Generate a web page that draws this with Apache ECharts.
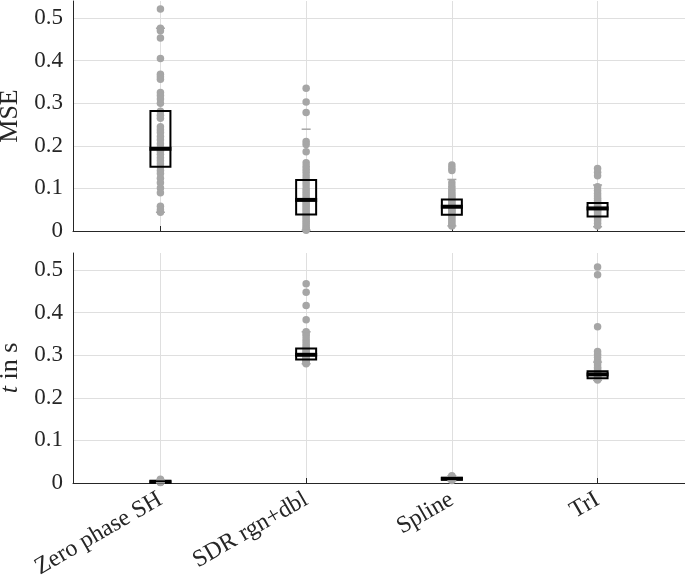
<!DOCTYPE html>
<html>
<head>
<meta charset="utf-8">
<script src="https://cdn.jsdelivr.net/npm/echarts@6/dist/echarts.min.js"></script>
<style>
  html, body { margin: 0; padding: 0; background: #fff; }
  #chart { width: 685px; height: 585px; }
</style>
</head>
<body>
<div id="chart"></div>
<script>
// ---------- data ----------
const categories = ['Zero phase SH', 'SDR rgn+dbl', 'Spline', 'TrI'];
const catPositions = [1, 2, 3, 4];
const yTicks = [0, 0.1, 0.2, 0.3, 0.4, 0.5];

// MSE panel: individual points per method
const mseZeroPhase = [0.521, 0.476, 0.470, 0.453, 0.405, 0.368, 0.362, 0.356, 0.325, 0.318, 0.310, 0.300, 0.281, 0.272, 0.265, 0.245, 0.238, 0.231, 0.222, 0.214, 0.205, 0.197, 0.187, 0.180, 0.172, 0.165, 0.158, 0.150, 0.142, 0.135, 0.124, 0.113, 0.101, 0.090, 0.058, 0.050, 0.044];
const mseSdr = [0.335, 0.303, 0.278, 0.210, 0.203, 0.186, 0.160, 0.152, 0.145, 0.138, 0.130, 0.122, 0.115, 0.108, 0.100, 0.094, 0.088, 0.082, 0.076, 0.072, 0.068, 0.063, 0.058, 0.053, 0.048, 0.043, 0.038, 0.033, 0.028, 0.023, 0.018, 0.013, 0.008, 0.004, 0.002];
const mseSpline = [0.155, 0.148, 0.142, 0.113, 0.105, 0.098, 0.092, 0.087, 0.082, 0.078, 0.074, 0.070, 0.066, 0.062, 0.059, 0.056, 0.053, 0.050, 0.047, 0.044, 0.040, 0.036, 0.031, 0.026, 0.021, 0.016, 0.012];
const mseTri = [0.147, 0.138, 0.130, 0.104, 0.095, 0.088, 0.082, 0.077, 0.072, 0.068, 0.064, 0.060, 0.057, 0.054, 0.051, 0.048, 0.045, 0.042, 0.038, 0.034, 0.029, 0.024, 0.018, 0.012];

// MSE panel: box statistics per method
const mseLow    = [0.044, 0.002, 0.012, 0.010];
const mseQ1     = [0.151, 0.039, 0.038, 0.034];
const mseMedian = [0.193, 0.073, 0.057, 0.053];
const mseQ3     = [0.282, 0.120, 0.074, 0.066];
const mseHigh   = [0.476, 0.239, 0.121, 0.108];

// time panel: individual points per method
const tZeroPhase = [0.001, 0.002, 0.002, 0.003, 0.003, 0.003, 0.004, 0.004, 0.005, 0.006, 0.009];
const tSdr = [0.468, 0.448, 0.417, 0.383, 0.355, 0.350, 0.345, 0.338, 0.332, 0.326, 0.320, 0.316, 0.312, 0.308, 0.305, 0.302, 0.300, 0.298, 0.296, 0.294, 0.292, 0.290, 0.288, 0.286, 0.284, 0.282, 0.280];
const tSpline = [0.006, 0.008, 0.009, 0.010, 0.010, 0.011, 0.012, 0.013, 0.015, 0.017];
const tTri = [0.507, 0.489, 0.367, 0.309, 0.302, 0.295, 0.288, 0.282, 0.277, 0.272, 0.268, 0.264, 0.261, 0.258, 0.256, 0.254, 0.252, 0.250, 0.248, 0.246, 0.244, 0.242];

// time panel: box statistics per method
const tLow    = [0.0005, 0.280, 0.005, 0.241];
const tQ1     = [0.002, 0.290, 0.008, 0.246];
const tMedian = [0.003, 0.301, 0.010, 0.255];
const tQ3     = [0.004, 0.316, 0.012, 0.2625];
const tHigh   = [0.008, 0.355, 0.017, 0.284];

// ---------- build ----------
const FONT = 'Liberation Serif';
const TEXT = '#262626';
const GRIDC = '#dfdfdf';
const PT = '#a6a6a6';

function points(groups) {
  const out = [];
  groups.forEach((g, i) => g.forEach(v => out.push([catPositions[i], v])));
  return out;
}
function boxes(q1, med, q3) {
  return catPositions.map((x, i) => [x, q1[i], med[i], q3[i]]);
}
function caps(lo, hi) {
  return catPositions.map((x, i) => [x, lo[i], hi[i]]);
}

function renderBox(params, api) {
  const x = api.value(0);
  const p1 = api.coord([x, api.value(1)]);
  const pm = api.coord([x, api.value(2)]);
  const p3 = api.coord([x, api.value(3)]);
  const w = 20;
  return {
    type: 'group',
    children: [
      { type: 'rect', shape: { x: p1[0] - w / 2, y: p3[1], width: w, height: Math.max(p1[1] - p3[1], 0.5) },
        style: { fill: 'none', stroke: '#000', lineWidth: 2 } },
      { type: 'line', shape: { x1: pm[0] - w / 2 - 1, y1: pm[1], x2: pm[0] + w / 2 + 1, y2: pm[1] },
        style: { stroke: '#000', lineWidth: 4 } }
    ]
  };
}
function renderCaps(params, api) {
  const x = api.value(0);
  const pl = api.coord([x, api.value(1)]);
  const ph = api.coord([x, api.value(2)]);
  const hw = 4.5;
  return {
    type: 'group',
    children: [
      { type: 'line', shape: { x1: pl[0] - hw, y1: pl[1], x2: pl[0] + hw, y2: pl[1] }, style: { stroke: PT, lineWidth: 1.5 } },
      { type: 'line', shape: { x1: ph[0] - hw, y1: ph[1], x2: ph[0] + hw, y2: ph[1] }, style: { stroke: PT, lineWidth: 1.5 } }
    ]
  };
}

function xAxisCfg(gridIndex, showLabels) {
  return {
    type: 'value', gridIndex, min: 0.4, max: 4.6,
    axisLine: { show: true, onZero: false, lineStyle: { color: TEXT, width: 1 } },
    axisTick: { show: true, inside: true, length: 5, customValues: catPositions, lineStyle: { color: TEXT } },
    axisLabel: {
      show: showLabels, customValues: catPositions, rotate: 30, margin: 15,
      fontFamily: FONT, fontSize: 24, color: TEXT,
      formatter: v => categories[Math.round(v) - 1]
    },
    splitLine: { show: true, lineStyle: { color: GRIDC, width: 1 } }
  };
}
function yAxisCfg(gridIndex, name) {
  return {
    type: 'value', gridIndex, min: 0, max: 0.54,
    name, nameLocation: 'middle', nameGap: 47, nameRotate: 90,
    nameTextStyle: {
      fontFamily: FONT, fontSize: 26, color: TEXT,
      rich: { i: { fontFamily: FONT, fontSize: 26, fontStyle: 'italic', color: TEXT } }
    },
    axisLine: { show: true, lineStyle: { color: TEXT, width: 1 } },
    axisTick: { show: false, customValues: yTicks },
    axisLabel: {
      customValues: yTicks, margin: 10, fontFamily: FONT, fontSize: 23, color: TEXT,
      formatter: v => (v === 0 ? '0' : v.toFixed(1))
    },
    splitLine: { show: true, lineStyle: { color: GRIDC, width: 1 } }
  };
}

const option = {
  animation: false,
  backgroundColor: '#fff',
  grid: [
    { left: 73, right: 0, top: 1, height: 230, containLabel: false, outerBoundsMode: 'none' },
    { left: 73, right: 0, top: 253, height: 230, containLabel: false, outerBoundsMode: 'none' }
  ],
  xAxis: [xAxisCfg(0, false), xAxisCfg(1, true)],
  yAxis: [yAxisCfg(0, 'MSE'), yAxisCfg(1, '{i|t} in s')],
  series: [
    { type: 'scatter', xAxisIndex: 0, yAxisIndex: 0, symbolSize: 7.5, itemStyle: { color: PT, opacity: 1 },
      data: points([mseZeroPhase, mseSdr, mseSpline, mseTri]), z: 2 },
    { type: 'custom', xAxisIndex: 0, yAxisIndex: 0, renderItem: renderBox, data: boxes(mseQ1, mseMedian, mseQ3), z: 3 },
    { type: 'custom', xAxisIndex: 0, yAxisIndex: 0, renderItem: renderCaps, data: caps(mseLow, mseHigh), z: 4 },
    { type: 'scatter', xAxisIndex: 1, yAxisIndex: 1, symbolSize: 7.5, itemStyle: { color: PT, opacity: 1 },
      data: points([tZeroPhase, tSdr, tSpline, tTri]), z: 2 },
    { type: 'custom', xAxisIndex: 1, yAxisIndex: 1, renderItem: renderBox, data: boxes(tQ1, tMedian, tQ3), z: 3 },
    { type: 'custom', xAxisIndex: 1, yAxisIndex: 1, renderItem: renderCaps, data: caps(tLow, tHigh), z: 4 }
  ]
};

const chart = echarts.init(document.getElementById('chart'), null, { renderer: 'canvas' });
chart.setOption(option);
</script>
</body>
</html>
